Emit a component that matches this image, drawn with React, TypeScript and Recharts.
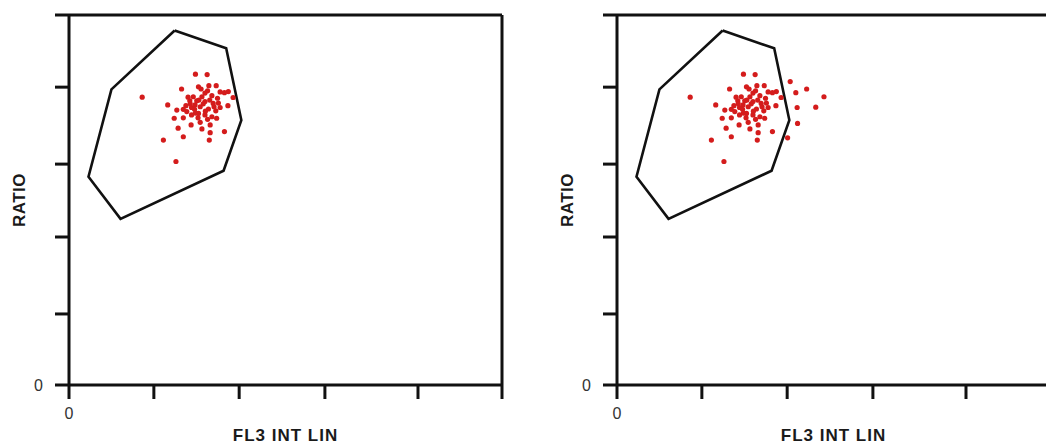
import React from 'react';
import { ScatterChart, Scatter, XAxis, YAxis, ReferenceLine } from 'recharts';

// axis tick positions (only 0 is labelled)
const xTicks = [0, 196, 393, 591, 806, 1000];
const yTicks = [0, 192, 400, 597, 805, 1000];

// gate polygon, first vertex repeated to close it
const gate = [
  { x: 244, y: 958 },
  { x: 363, y: 910 },
  { x: 398, y: 716 },
  { x: 357, y: 579 },
  { x: 119, y: 449 },
  { x: 45, y: 563 },
  { x: 98, y: 799 },
  { x: 244, y: 958 },
];

// events found in both panels
const sharedEvents = [
  { x: 169, y: 778 }, { x: 292, y: 840 }, { x: 319, y: 839 }, { x: 260, y: 800 },
  { x: 228, y: 757 }, { x: 299, y: 806 }, { x: 323, y: 809 }, { x: 340, y: 809 },
  { x: 320, y: 795 }, { x: 368, y: 793 }, { x: 359, y: 790 }, { x: 379, y: 777 },
  { x: 287, y: 779 }, { x: 307, y: 779 }, { x: 330, y: 782 }, { x: 343, y: 775 },
  { x: 279, y: 768 }, { x: 295, y: 768 }, { x: 314, y: 766 }, { x: 333, y: 761 },
  { x: 367, y: 755 }, { x: 349, y: 750 }, { x: 249, y: 743 }, { x: 264, y: 745 },
  { x: 283, y: 750 }, { x: 303, y: 752 }, { x: 322, y: 746 }, { x: 339, y: 741 },
  { x: 243, y: 721 }, { x: 264, y: 722 }, { x: 283, y: 730 }, { x: 299, y: 734 },
  { x: 314, y: 730 }, { x: 330, y: 725 }, { x: 341, y: 721 }, { x: 252, y: 694 },
  { x: 282, y: 703 }, { x: 303, y: 710 }, { x: 326, y: 703 }, { x: 307, y: 692 },
  { x: 326, y: 682 }, { x: 359, y: 685 }, { x: 264, y: 671 }, { x: 218, y: 662 },
  { x: 324, y: 662 }, { x: 247, y: 604 }, { x: 272, y: 739 }, { x: 291, y: 757 },
  { x: 314, y: 789 }, { x: 275, y: 778 }, { x: 349, y: 792 }, { x: 298, y: 722 },
  { x: 300, y: 770 }, { x: 310, y: 760 }, { x: 325, y: 770 }, { x: 290, y: 745 },
  { x: 315, y: 740 }, { x: 335, y: 752 }, { x: 305, y: 800 }, { x: 280, y: 760 },
  { x: 345, y: 762 }, { x: 320, y: 718 }, { x: 292, y: 735 }, { x: 270, y: 755 },
];

// events only in the right panel (outside the gate)
const extraEvents = [
  { x: 400, y: 820 }, { x: 438, y: 800 }, { x: 413, y: 790 }, { x: 478, y: 779 },
  { x: 416, y: 750 }, { x: 459, y: 751 }, { x: 417, y: 707 }, { x: 394, y: 668 },
];

const font = '"Liberation Sans", Arial, sans-serif';
const ink = '#111';

const Dot = (props: any) => <circle cx={props.cx} cy={props.cy} r={2.6} fill="#d41c1c" />;
const NoDot = () => <g />;

const RatioLabel = (props: any) => {
  const vb = props.viewBox;
  const cx = vb.x + 25;
  const cy = vb.y + vb.height / 2;
  return (
    <text x={cx} y={cy} transform={`rotate(-90, ${cx}, ${cy})`} textAnchor="middle"
      fontFamily={font} fontWeight="bold" fontSize={17} letterSpacing={0.5} fill="#1a1a1a">
      RATIO
    </text>
  );
};

const FlLabel = (props: any) => {
  const vb = props.viewBox;
  return (
    <text x={vb.x + vb.width / 2} y={vb.y + 56} textAnchor="middle"
      fontFamily={font} fontWeight="bold" fontSize={17} letterSpacing={1} fill="#1a1a1a">
      FL3 INT LIN
    </text>
  );
};

const Panel = ({ events, left }: { events: { x: number; y: number }[]; left: number }) => (
  <div style={{ position: 'absolute', left, top: 0 }}>
    <ScatterChart width={520} height={444} margin={{ top: 15, right: 18, bottom: 0, left: 0 }}>
      <XAxis type="number" dataKey="x" domain={[0, 1000]} ticks={xTicks} interval={0}
        allowDataOverflow height={59} tickSize={14} tickMargin={9}
        axisLine={{ stroke: ink, strokeWidth: 3 }} tickLine={{ stroke: ink, strokeWidth: 3 }}
        tick={{ fill: '#333', fontSize: 16, fontFamily: font }}
        tickFormatter={(v: number) => (v === 0 ? '0' : '')}
        label={(p: any) => <FlLabel {...p} />} />
      <YAxis type="number" dataKey="y" domain={[0, 1000]} ticks={yTicks} interval={0}
        allowDataOverflow width={69} tickSize={14} tickMargin={12}
        axisLine={{ stroke: ink, strokeWidth: 3 }} tickLine={{ stroke: ink, strokeWidth: 3 }}
        tick={{ fill: '#333', fontSize: 16, fontFamily: font }}
        tickFormatter={(v: number) => (v === 0 ? '0' : '')}
        label={(p: any) => <RatioLabel {...p} />} />
      <ReferenceLine y={1000} stroke={ink} strokeWidth={3} />
      <ReferenceLine x={1000} stroke={ink} strokeWidth={3} />
      <Scatter data={gate} line={{ stroke: ink, strokeWidth: 2.6 }} lineType="joint"
        shape={NoDot} isAnimationActive={false} />
      <Scatter data={events} shape={Dot} isAnimationActive={false} />
    </ScatterChart>
  </div>
);

export default function App() {
  return (
    <div style={{ position: 'absolute', left: 0, top: 0, width: 1046, height: 444, overflow: 'hidden', background: '#fff' }}>
      <Panel events={sharedEvents} left={0} />
      <Panel events={[...sharedEvents, ...extraEvents]} left={548} />
    </div>
  );
}
